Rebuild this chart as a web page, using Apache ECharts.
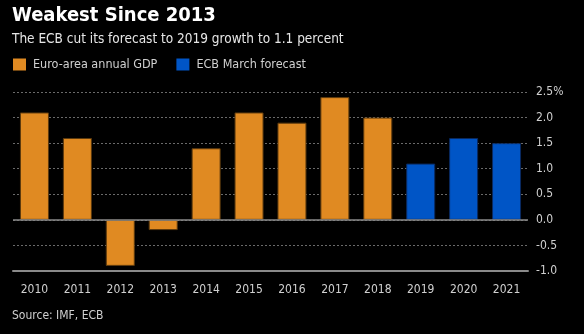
<!DOCTYPE html>
<html><head><meta charset="utf-8">
<script src="https://cdn.jsdelivr.net/npm/echarts@6/dist/echarts.min.js"></script>
<style>html,body{margin:0;padding:0;background:#000;}#c{width:584px;height:334px;}</style>
</head><body><div id="c"></div>
<script>
var years = ['2010','2011','2012','2013','2014','2015','2016','2017','2018','2019','2020','2021'];
var gdpValues = [2.1, 1.6, -0.9, -0.2, 1.4, 2.1, 1.9, 2.4, 2.0, null, null, null];
var forecastValues = [null, null, null, null, null, null, null, null, null, 1.1, 1.6, 1.5];
var yTicks = [-1.0, -0.5, 0.0, 0.5, 1.0, 1.5, 2.0, 2.5];

var FONT = '"DejaVu Sans Condensed", "DejaVu Sans", sans-serif';
var chart = echarts.init(document.getElementById('c'));
chart.setOption({
  backgroundColor: '#000',
  animation: false,
  textStyle: {fontFamily: FONT},
  title: [
    {text: 'Weakest Since 2013', left: 7, top: 1, textStyle: {color: '#fff', fontSize: 20, fontWeight: 'bold', fontFamily: FONT}},
    {text: 'The ECB cut its forecast to 2019 growth to 1.1 percent', left: 7, top: 27, textStyle: {color: '#e6e6e6', fontSize: 13.5, fontWeight: 'normal', fontFamily: FONT}},
    {text: 'Source: IMF, ECB', left: 7, top: 305, textStyle: {color: '#cfcfcf', fontSize: 12, fontWeight: 'normal', fontFamily: FONT}}
  ],
  legend: {
    left: 13, top: 58, padding: 0, itemWidth: 13, itemHeight: 12, itemGap: 19,
    icon: 'rect',
    itemStyle: {borderWidth: 0},
    textStyle: {color: '#d0d0d0', fontSize: 12.5, fontFamily: FONT, padding: [0,0,0,2]},
    data: ['Euro-area annual GDP', 'ECB March forecast']
  },
  grid: {left: 13, right: 56, top: 92, bottom: 63, containLabel: false},
  xAxis: {
    type: 'category', data: years,
    axisLine: {onZero: false, lineStyle: {color: '#8a8a8a', width: 2}},
    axisTick: {alignWithLabel: true, length: 5, lineStyle: {color: '#8a8a8a'}},
    axisLabel: {color: '#d0d0d0', fontSize: 12, margin: 13, fontFamily: FONT},
    splitLine: {show: false}
  },
  yAxis: {
    type: 'value', position: 'right', min: -1, max: 2.5, interval: 0.5,
    axisLine: {show: false}, axisTick: {show: false},
    axisLabel: {color: '#d0d0d0', fontSize: 12, margin: 8, fontFamily: FONT,
      formatter: function(v){ var s = v.toFixed(1); return v === 2.5 ? s + '%' : s; }},
    splitLine: {lineStyle: {color: '#6a6a6a', type: [2, 2], width: 1}}
  },
  series: [
    {name: 'Euro-area annual GDP', type: 'bar', data: gdpValues, barWidth: 29, barGap: '-100%',
      itemStyle: {color: '#e08a22', borderColor: '#5c3a0e', borderWidth: 1},
      markLine: {silent: true, symbol: 'none', label: {show: false},
        lineStyle: {color: '#8a8a8a', type: 'solid', width: 1.5}, data: [{yAxis: 0}]}},
    {name: 'ECB March forecast', type: 'bar', data: forecastValues, barWidth: 29,
      itemStyle: {color: '#0055c6', borderColor: '#0a2a60', borderWidth: 1}}
  ]
});
</script></body></html>
